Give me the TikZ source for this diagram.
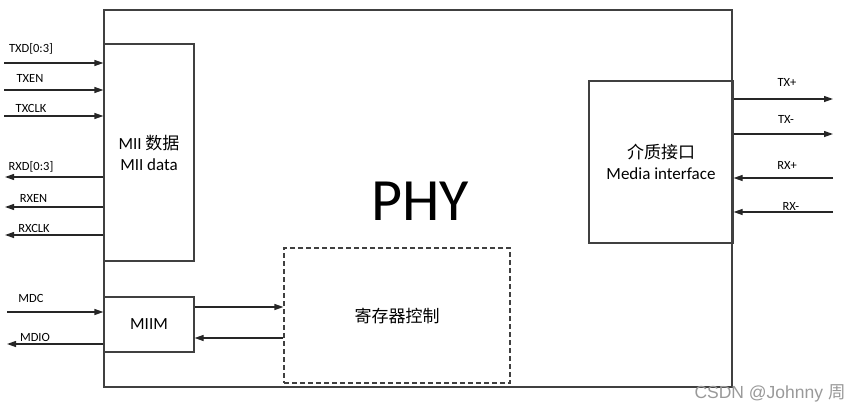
\documentclass[tikz,border=0pt]{standalone}
\usepackage{fontspec}
\setmainfont{Carlito}
\newfontfamily\cjk{Noto Sans CJK SC}
\newfontfamily\wmfont{Liberation Sans}
\usetikzlibrary{arrows.meta, fit}

\begin{document}
\begin{tikzpicture}[x=1pt, y=-1pt,
        box/.style={draw=black!75, line width=1.2pt, inner sep=0pt},
        regbox/.style={box, dash pattern=on 5pt off 3pt},
        sig/.style={draw=black!85, line width=1.2pt, -{Triangle[length=9pt, width=6pt]}},
        lbl/.style={font=\fontsize{12.5}{14}\selectfont, inner sep=0pt, anchor=base},
        txt/.style={font=\fontsize{17}{21}\selectfont, align=center, inner sep=0pt}]
            \useasboundingbox (0,0) rectangle (865,415);
            % blocks
            \node[box, fit={(104,10) (732,387)}] (phy) {};
            \node[font=\fontsize{60}{60}\selectfont, anchor=base] (title) at (420,220) {PHY};
            \node[box, fit={(104,44) (194,261)}] (mii) {};
            \node[box, fit={(104,297) (194,352)}] (miim) {};
            \node[regbox, fit={(284,248) (510,383)}] (reg) {};
            \node[box, fit={(589,81) (733,243)}] (media) {};
            \node[txt] (miitxt) at (mii.center) {MII {\cjk 数据}\\MII data};
            \node[txt] (miimtxt) at (miim.center) {MIIM};
            \node[txt] (regtxt) at (reg.center) {{\cjk 寄存器控制}};
            \node[txt] (mediatxt) at (media.center) {{\cjk 介质接口}\\Media interface};
            % MII signals
            \foreach \nm/\y/\lx/\ly in {TXD[0:3]/63/31/52, TXEN/90/30/82, TXCLK/116/31/112}
            {
                \coordinate (in\y) at (4,\y);
                \draw[sig] (in\y) -- (in\y -| mii.west);
                \node[lbl] at (\lx,\ly) {\nm};
            }
            \foreach \nm/\y/\lx/\ly in {RXD[0:3]/177/31/170, RXEN/207/33.5/202, RXCLK/235/34/232}
            {
                \coordinate (out\y) at (5,\y);
                \draw[sig] (out\y -| mii.west) -- (out\y);
                \node[lbl] at (\lx,\ly) {\nm};
            }
            % management
            \coordinate (mdc) at (7,312);
            \coordinate (mdio) at (7,344);
            \draw[sig] (mdc) -- (mdc -| miim.west);
            \draw[sig] (mdio -| miim.west) -- (mdio);
            \node[lbl] at (31,302) {MDC};
            \node[lbl] at (35,341) {MDIO};
            \draw[sig] ([yshift=17.5pt]miim.east) -- ([yshift=17.5pt]miim.east -| reg.west);
            \draw[sig] ([yshift=-13.5pt]miim.east -| reg.west) -- ([yshift=-13.5pt]miim.east);
            % media signals
            \foreach \nm/\y/\lx/\ly in {TX+/99/787/86, TX-/134/786/123}
            {
                \coordinate (tx\y) at (833,\y);
                \draw[sig] (tx\y -| media.east) -- (tx\y);
                \node[lbl] at (\lx,\ly) {\nm};
            }
            \foreach \nm/\y/\lx/\ly in {RX+/178/787/169, RX-/212/791/210}
            {
                \coordinate (rx\y) at (833,\y);
                \draw[sig] (rx\y) -- (rx\y -| media.east);
                \node[lbl] at (\lx,\ly) {\nm};
            }
            \node[font=\wmfont\fontsize{17.5}{17.5}\selectfont, text=black!40, anchor=base] (mark) at (770,398) {CSDN @Johnny {\cjk 周}};
        \end{tikzpicture}
\end{document}
